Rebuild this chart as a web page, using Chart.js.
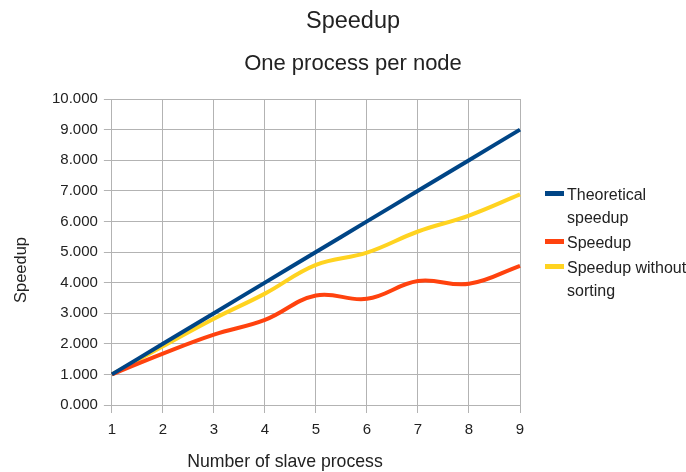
<!DOCTYPE html>
<html>
<head>
<meta charset="utf-8">
<script src="https://cdn.jsdelivr.net/npm/chart.js@4"></script>
<style>
  body { margin: 0; background: #fff; }
  #wrap { position: relative; width: 686px; height: 472px; }
  #legend { position: absolute; left: 545px; top: 183px; font-family: "Liberation Sans", Arial, sans-serif; font-size: 16px; color: #222; line-height: 23px; white-space: nowrap; }
  #legend .item { display: flex; align-items: flex-start; margin-bottom: 2px; }
  #legend .sw { width: 19px; height: 5px; margin-top: 8px; margin-right: 3px; flex: none; }
</style>
</head>
<body>
<div id="wrap">
  <canvas id="chart" width="686" height="472"></canvas>
  <div id="legend"></div>
</div>
<script>
// categorie (numero di processi slave)
const categories = ['1', '2', '3', '4', '5', '6', '7', '8', '9'];

// serie
const theoretical = [1, 2, 3, 4, 5, 6, 7, 8, 9];
const speedup = [1, 1.68, 2.3, 2.78, 3.58, 3.47, 4.05, 3.96, 4.55];
const speedupNoSort = [1, 1.92, 2.82, 3.64, 4.58, 4.98, 5.67, 6.19, 6.88];

const seriesNames = [['Theoretical', 'speedup'], ['Speedup'], ['Speedup without', 'sorting']];
const seriesColors = ['#004586', '#ff420e', '#ffd320'];

const font = '"Liberation Sans", Arial, sans-serif';
const textColor = '#222';

// Titoli e titoli degli assi disegnati a mano (non centrati sull'area del grafico)
const fixedTexts = {
    id: 'fixedTexts',
    afterDraw(chart) {
        const c = chart.ctx;
        c.save();
        c.fillStyle = textColor;
        c.textAlign = 'center';
        c.textBaseline = 'middle';
        c.font = `23.5px ${font}`;
        c.fillText('Speedup', 353, 22);
        c.font = `22px ${font}`;
        c.fillText('One process per node', 353, 64);
        c.font = `17.7px ${font}`;
        c.fillText('Number of slave process', 285, 462);
        c.translate(21, 270);
        c.rotate(-Math.PI / 2);
        c.font = `16.5px ${font}`;
        c.fillText('Speedup', 0, 0);
        c.restore();
    }
};

const ctx = document.getElementById('chart').getContext('2d');
const chart = new Chart(ctx, {
    type: 'line',
    data: {
        labels: categories,
        datasets: [theoretical, speedup, speedupNoSort].map((d, i) => ({
            label: seriesNames[i].join(' '),
            data: d,
            borderColor: seriesColors[i],
            backgroundColor: seriesColors[i],
            borderWidth: 4,
            pointRadius: 0,
            tension: 0.4,
            fill: false
        }))
    },
    plugins: [fixedTexts],
    options: {
        responsive: false,
        animation: false,
        layout: { padding: { left: 46, right: 166, top: 99, bottom: 25 } },
        plugins: {
            legend: { display: false },
            tooltip: { enabled: false },
            title: { display: false }
        },
        scales: {
            x: {
                offset: false,
                grid: { color: '#b3b3b3', lineWidth: 1, tickLength: 8 },
                border: { color: '#b3b3b3' },
                ticks: { color: textColor, font: { family: font, size: 15 }, maxRotation: 0, padding: 8 }
            },
            y: {
                min: 0,
                max: 10,
                grid: { color: '#b3b3b3', lineWidth: 1, tickLength: 8 },
                border: { color: '#b3b3b3' },
                ticks: {
                    stepSize: 1,
                    color: textColor,
                    font: { family: font, size: 15 },
                    padding: 6,
                    callback: v => v.toFixed(3)
                }
            }
        }
    }
});

// legenda HTML (etichette su due righe)
const legendDiv = document.getElementById('legend');
seriesNames.forEach((name, i) => {
    const item = document.createElement('div');
    item.className = 'item';
    item.innerHTML = `<span class="sw" style="background:${seriesColors[i]}"></span><span>${name.join('<br>')}</span>`;
    legendDiv.appendChild(item);
});
</script>
</body>
</html>
